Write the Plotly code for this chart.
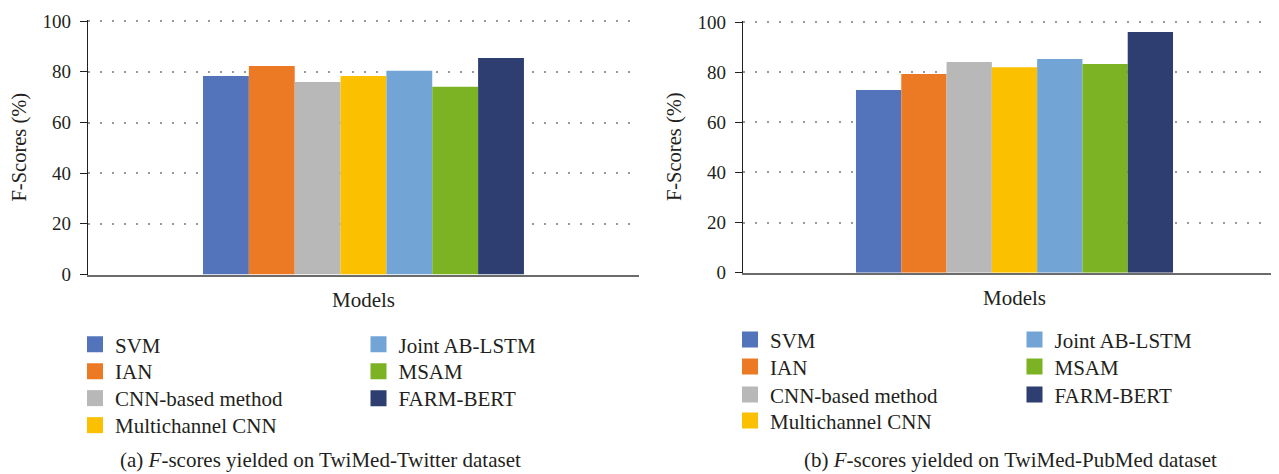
import plotly.graph_objects as go

W, H = 1279, 474
OFF = 8  # page body margin offsets the figure by this many px

models = ["SVM", "IAN", "CNN-based method", "Multichannel CNN",
          "Joint AB-LSTM", "MSAM", "FARM-BERT"]
colors = ["#5373BA", "#EC7A24", "#B8B8B8", "#FBC000",
          "#72A5D6", "#7BB324", "#2E3E70"]
twitter_scores = [78.4, 82.3, 76.0, 78.4, 80.4, 74.1, 85.5]
pubmed_scores = [72.9, 79.3, 84.0, 82.0, 85.2, 83.2, 96.0]
category = ["Models"]
y_ticks = [0, 20, 40, 60, 80, 100]
captions = ["(a) <i>F</i>-scores yielded on TwiMed-Twitter dataset",
            "(b) <i>F</i>-scores yielded on TwiMed-PubMed dataset"]

FONT = "Liberation Serif"
TXT = "#231f20"


def px_x(p):
    return (p - OFF) / W


def px_y(p):
    return 1 - (p - OFF) / H


# legend layout: (column x positions, row y centres) per panel, in page px
legend_cols = [(75, 358.5), (730, 1014.5)]
legend_rows = [(344.7, 371.6, 398.5, 425.5), (339.8, 366.8, 394.8, 420.8)]

fig = go.Figure()
legend_layout = {}
panels = [(twitter_scores, "x", "y"), (pubmed_scores, "x2", "y2")]
leg_idx = 0
for p, (scores, xa, ya) in enumerate(panels):
    for i, (m, c, v) in enumerate(zip(models, colors, scores)):
        fig.add_trace(go.Bar(x=category, y=[v], name=m, marker_color=c,
                             marker_line_width=0, xaxis=xa, yaxis=ya,
                             showlegend=False))
        leg_idx += 1
        lname = "legend" if leg_idx == 1 else f"legend{leg_idx}"
        col, row = (0, i) if i < 4 else (1, i - 4)
        legend_layout[lname] = dict(
            x=px_x(legend_cols[p][col]), y=px_y(legend_rows[p][row]),
            xanchor="left", yanchor="middle",
            font=dict(family=FONT, size=21, color=TXT),
            bgcolor="rgba(0,0,0,0)", itemsizing="trace",
            itemclick=False, itemdoubleclick=False)
        fig.add_trace(go.Scatter(x=[None], y=[None], name=m, mode="markers",
                                 marker=dict(symbol="square", size=16, color=c),
                                 xaxis=xa, yaxis=ya, legend=lname))

xcommon = dict(showline=True, linecolor="#6b6b6b", linewidth=2,
               showgrid=False, ticks="", ticklabelstandoff=5,
               automargin=False,
               tickfont=dict(family=FONT, size=21, color=TXT), fixedrange=True)
ycommon = dict(range=[0, 100.5], tickvals=y_ticks, showline=True,
               linecolor=TXT, linewidth=1.2, ticks="outside", ticklen=7,
               tickcolor=TXT, tickwidth=1, ticklabelstandoff=5,
               showgrid=True, gridcolor="#9a9a9a",
               gridwidth=1.5, griddash="2px,10px", zeroline=False,
               automargin=False,
               tickfont=dict(family=FONT, size=19, color=TXT),
               title=dict(text="F-Scores (%)", standoff=10,
                          font=dict(family=FONT, size=20.5, color=TXT)))

fig.update_layout(
    width=W, height=H,
    margin=dict(l=0, r=0, t=0, b=0, pad=0, autoexpand=False),
    paper_bgcolor="white", plot_bgcolor="white",
    barmode="group", bargap=0.42, bargroupgap=0,
    xaxis=dict(domain=[px_x(88), px_x(639)], range=[-0.4978, 0.4979],
               anchor="y", **xcommon),
    xaxis2=dict(domain=[px_x(743), px_x(1279)], range=[-0.4967, 0.4839],
                anchor="y2", **xcommon),
    yaxis=dict(domain=[px_y(274.5), px_y(19.9)], anchor="x", **ycommon),
    yaxis2=dict(domain=[px_y(272.7), px_y(20.75)], anchor="x2", **ycommon),
    showlegend=True,
    **legend_layout,
)

for cap, cx in zip(captions, [320, 1010]):
    fig.add_annotation(text=cap, xref="paper", yref="paper",
                       x=px_x(cx), y=px_y(460), xanchor="center",
                       yanchor="middle", showarrow=False,
                       font=dict(family=FONT, size=21, color=TXT))

fig.write_html("out.html")
